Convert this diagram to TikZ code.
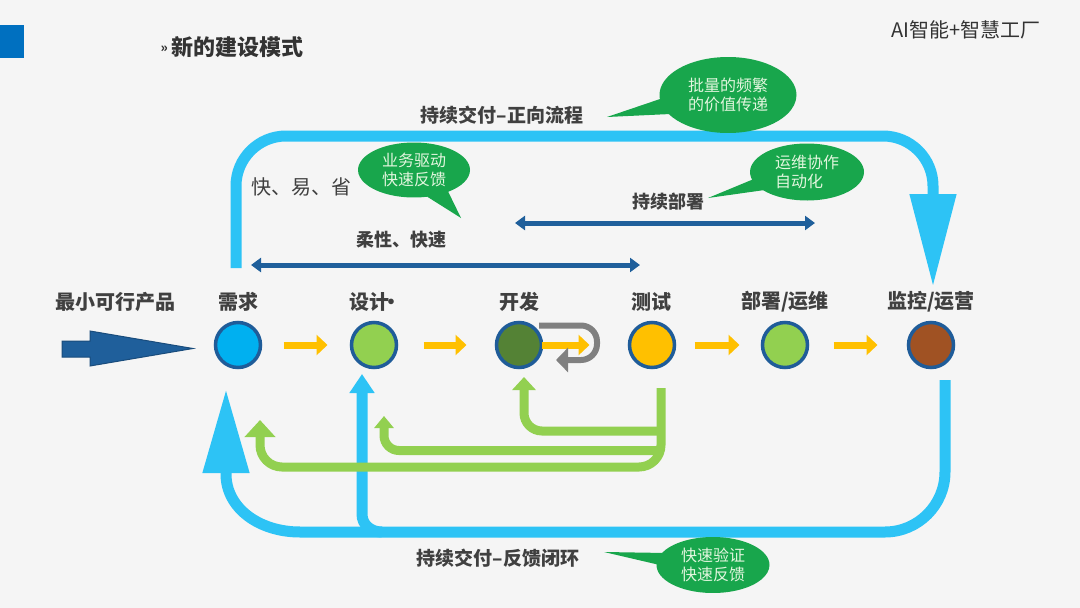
\documentclass[tikz,border=0pt]{standalone}
\usepackage{fontspec}
\setmainfont{Noto Sans CJK SC}
\usetikzlibrary{arrows.meta,shapes.callouts}
\definecolor{bgcolor}{RGB}{245,245,245}
\definecolor{headblue}{RGB}{0,112,192}
\definecolor{flowblue}{RGB}{45,195,245}
\definecolor{spanblue}{RGB}{31,95,155}
\definecolor{ringblue}{RGB}{31,92,153}
\definecolor{fbgreen}{RGB}{146,208,80}
\definecolor{stepyellow}{RGB}{255,192,0}
\definecolor{loopgray}{RGB}{128,128,128}
\definecolor{bubblegreen}{RGB}{24,166,76}
\definecolor{bubbletext}{RGB}{226,246,222}
\definecolor{labelgray}{RGB}{64,64,64}

\begin{document}
\begin{tikzpicture}[x=1pt, y=-1pt,
    stage/.style={circle, draw=ringblue, line width=3.5pt, minimum size=45pt, inner sep=0pt, outer sep=0pt},
    stagelab/.style={font=\fontsize{20}{24}\selectfont\bfseries, text=labelgray},
    spanlab/.style={font=\fontsize{18}{22}\selectfont\bfseries, text=labelgray},
    flowlab/.style={font=\fontsize{19}{23}\selectfont\bfseries, text=labelgray},
    steparrow/.style={stepyellow, line width=7pt, -{Triangle[width=20pt,length=11pt]}},
    spanarrow/.style={spanblue, line width=5pt, {Triangle[width=14pt,length=10pt]}-{Triangle[width=14pt,length=10pt]}},
    flowline/.style={flowblue, line width=11pt},
    fbline/.style={fbgreen, line width=9pt},
    bubble/.style={ellipse callout, fill=bubblegreen, text=bubbletext, inner sep=0pt, callout pointer arc=24,
        font=\fontsize{16}{19}\selectfont, align=center}]
    \fill[bgcolor] (0,0) rectangle (1080,608);
    \useasboundingbox (0,0) rectangle (1080,608);
    \fill[headblue] (0,25) rectangle (24,58);
    \node[anchor=west, text=black!80, font=\fontsize{22}{26}\selectfont\bfseries] (title) at (157,47) {\raisebox{3pt}{\fontsize{13}{13}\selectfont »}\hspace{4pt}新的建设模式};
    \node[anchor=east, text=black!80, font=\fontsize{20}{24}\selectfont] (brand) at (1044,30) {AI智能+智慧工厂};

    % stages
    \node[stage, fill={rgb,255:red,0;green,176;blue,240}] (req) at (238,345) {};
    \node[stage, fill=fbgreen] (des) at (374,345) {};
    \node[stage, fill={rgb,255:red,84;green,130;blue,53}] (dev) at (519,345) {};
    \node[stage, fill=stepyellow] (tst) at (652,345) {};
    \node[stage, fill=fbgreen] (dep) at (785,345) {};
    \node[stage, fill={rgb,255:red,160;green,82;blue,35}] (mon) at (931,345) {};
    \node[stagelab] (mvplab) at (116,302) {最小可行产品};
    \node[stagelab] (reqlab) at (238,302) {需求};
    \node[stagelab] (deslab) at (375,302) {设计\hspace{-8pt}·\hspace{-8pt}};
    \node[stagelab] (devlab) at (519,302) {开发};
    \node[stagelab] (tstlab) at (651,302) {测试};
    \node[stagelab] (deplab) at (785,302) {部署/运维};
    \node[stagelab] (monlab) at (931,302) {监控/运营};
    \fill[spanblue, draw=spanblue!80!black, line width=1pt] (62,341) -- (90,341) -- (90,331) -- (193,348.5) -- (90,366) -- (90,357) -- (62,357) -- cycle;

    \draw[steparrow, shorten <=23pt, shorten >=24pt] (req) -- (des);
    \draw[steparrow, shorten <=27pt, shorten >=30pt] (des) -- (dev);
    \draw[steparrow, shorten >=40pt] (dev) -- (tst);
    \draw[steparrow, shorten <=20pt, shorten >=23pt] (tst) -- (dep);
    \draw[steparrow, shorten <=26pt, shorten >=31pt] (dep) -- (mon);

    \coordinate (loopin) at (539,325.5);
    \coordinate (loopout) at (556,360);
    \draw[loopgray, line width=6pt, rounded corners=16pt, -{Triangle[width=24pt,length=12pt]}] (loopin) -- (597,325.5) -- (597,360) -- (loopout);

    % forward delivery
    \coordinate (fwdstart) at (236,268);
    \coordinate (fwdend) at (933,287);
    \draw[flowline, rounded corners=50pt, -{Triangle[width=44pt,length=93pt]}] (fwdstart) |- (933,136) -- (fwdend);
    \node[flowlab] (fwdlab) at (502,115) {持续交付–正向流程};
    \node[font=\fontsize{20}{24}\selectfont, text=labelgray] (fastlab) at (301,187) {快、易、省};

    \coordinate (flexl) at (251,265);
    \coordinate (flexr) at (640,265);
    \draw[spanarrow] (flexl) -- (flexr);
    \node[spanlab] (flexlab) at (401,240) {柔性、快速};
    \coordinate (cdl) at (515,223);
    \coordinate (cdr) at (815,223);
    \draw[spanarrow] (cdl) -- (cdr);
    \node[spanlab] (cdlab) at (668,202) {持续部署};

    % feedback loop
    \coordinate (fbstart) at (945,380);
    \coordinate (fbend) at (226,389);
    \coordinate (fbdes) at (362,374);
    \draw[flowline, -{Triangle[width=44pt,length=84pt]}] (fbstart) -- (945,472) .. controls (945,505) and (918,532) .. (885,532) -- (300,532) .. controls (259,532) and (226,508) .. (226,474) -- (fbend);
    \draw[flowline, -{Triangle[width=24pt,length=19pt]}] (382,532) .. controls (371,532) and (362,525) .. (362,514) -- (fbdes);
    \node[flowlab] (fblab) at (498,558) {持续交付–反馈闭环};

    \coordinate (tstout) at (661,388);
    \coordinate (reqin) at (260,420);
    \coordinate (desin) at (384,416);
    \coordinate (devin) at (524,377);
    \draw[fbline, rounded corners=22pt, -{Triangle[width=30pt,length=17pt]}] (tstout) |- (260,467) -- (reqin);
    \draw[fbline, rounded corners=15pt, -{Triangle[width=19pt,length=12pt]}] (661,450.5) -| (desin);
    \draw[fbline, rounded corners=18pt, -{Triangle[width=23pt,length=13pt]}] (661,431) -| (devin);

    % callouts
    \coordinate (biztip) at (461,218);
    \coordinate (valtip) at (607,117);
    \coordinate (opstip) at (708,198);
    \coordinate (chktip) at (604,552);
    \node[bubble, minimum width=112pt, minimum height=55pt, callout absolute pointer=(biztip)] (bizbubble) at (414,170) {业务驱动\\快速反馈};
    \node[bubble, minimum width=137pt, minimum height=76pt, callout absolute pointer=(valtip)] (valbubble) at (728,95) {批量的频繁\\的价值传递};
    \node[bubble, minimum width=114pt, minimum height=57pt, callout absolute pointer=(opstip), align=left] (opsbubble) at (807,172) {运维协作\\自动化};
    \node[bubble, minimum width=113pt, minimum height=56pt, callout absolute pointer=(chktip)] (chkbubble) at (713,565) {快速验证\\快速反馈};
\end{tikzpicture}
\end{document}
